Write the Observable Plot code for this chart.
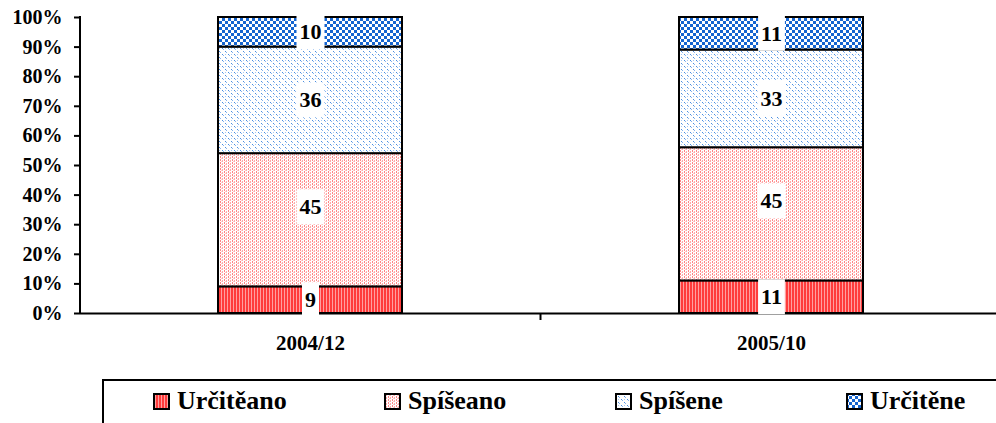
<!DOCTYPE html>
<html><head><meta charset="utf-8">
<script src="https://cdn.jsdelivr.net/npm/d3@7"></script>
<script src="https://cdn.jsdelivr.net/npm/@observablehq/plot@0.6"></script>
<style>
body{margin:0;background:#fff;font-family:"Liberation Serif";}
#legend{position:relative;margin-left:102px;margin-top:14px;height:60px;border-top:2px solid #000;border-left:2px solid #000;box-sizing:border-box;}
.sw{position:absolute;top:12px;width:17px;height:17px;}
.lt{position:absolute;top:7px;font-family:"Liberation Serif";font-weight:bold;font-size:26px;line-height:26px;white-space:nowrap;}
svg text{font-family:"Liberation Serif";}
</style></head><body>
<svg width="0" height="0" style="position:absolute">
<defs>
<pattern id="p0" width="3" height="4" patternUnits="userSpaceOnUse"><rect width="3" height="4" fill="#ffa0a0"/><rect width="2" height="4" fill="#ff3c3c"/></pattern>
<pattern id="p1" width="4" height="3" patternUnits="userSpaceOnUse"><rect width="4" height="3" fill="#ffffff"/><rect x="0" y="0" width="1" height="2" fill="#ff8484"/><rect x="2" y="1" width="1" height="2" fill="#ffaaaa"/><rect x="1" y="2" width="1" height="1" fill="#ffcccc"/></pattern>
<pattern id="p2" width="6" height="6" patternUnits="userSpaceOnUse"><rect width="6" height="6" fill="#ffffff"/><rect x="0" y="0" width="1" height="1" fill="#4a8ee0"/><rect x="1" y="1" width="1" height="1" fill="#8ab6ee"/><rect x="3" y="3" width="1" height="1" fill="#4a8ee0"/><rect x="4" y="4" width="1" height="1" fill="#8ab6ee"/><rect x="3" y="0" width="1" height="1" fill="#a9c9f2"/></pattern>
<pattern id="p3" width="6" height="6" patternUnits="userSpaceOnUse"><rect width="6" height="6" fill="#ffffff"/><rect x="0" y="0" width="3" height="3" fill="#1464d0"/><rect x="3" y="3" width="3" height="3" fill="#1464d0"/></pattern>
</defs></svg>
<div id="chart"></div>
<div id="legend"></div>
<script>
const categories = ["2004/12", "2005/10"];
const series = ["Určitěano", "Spíšeano", "Spíšene", "Určitěne"];
const values2004 = [9, 45, 36, 10];
const values2005 = [11, 45, 33, 11];
const yTicks = [0, 10, 20, 30, 40, 50, 60, 70, 80, 90, 100];
const patterns = ["url(#p0)", "url(#p1)", "url(#p2)", "url(#p3)"];

const data = [];
[values2004, values2005].forEach((vals, i) => {
  vals.forEach((v, j) => data.push({cat: categories[i], series: series[j], value: v}));
});

const font = "Liberation Serif";
const stackOpts = {x: "cat", y: "value", z: "series", text: "value"};
const lblStyle = {className: "lbl", fontSize: 22, fontWeight: "bold", fontFamily: font, fill: "#000"};

const chart = Plot.plot({
  width: 996,
  height: 365,
  marginLeft: 80,
  marginRight: 0,
  marginTop: 17,
  marginBottom: 52,
  style: {fontFamily: font, background: "#fff", overflow: "visible", color: "#000"},
  x: {domain: categories, range: [80, 1002], paddingInner: 0.6, paddingOuter: 0.3, label: null},
  y: {domain: [0, 100], label: null},
  color: {domain: series, range: patterns},
  marks: [
    Plot.barY(data, {x: "cat", y: "value", z: "series", fill: "series", stroke: "#000", strokeWidth: 2, inset: 0}),
    Plot.ruleY([0], {stroke: "#000", strokeWidth: 2}),
    Plot.axisY({ticks: yTicks, tickFormat: d => d + "%", tickSize: 6, tickPadding: 12, strokeWidth: 2, fontSize: 20, fontWeight: "bold", fontFamily: font, label: null}),
    Plot.axisX({tickSize: 0, tickPadding: 22, fontSize: 21, fontWeight: "bold", fontFamily: font, label: null}),
    Plot.text(data, Plot.filter(d => d.series !== "Spíšeano", Plot.stackY({...stackOpts, ...lblStyle}))),
    Plot.text(data, Plot.filter(d => d.series === "Spíšeano", Plot.stackY({...stackOpts, ...lblStyle, dy: -13})))
  ]
});
document.getElementById("chart").appendChild(chart);

// white boxes behind the data labels
const svg = d3.select(chart);
svg.selectAll("g.lbl text").each(function() {
  const b = this.getBBox();
  const tr = this.getAttribute("transform");
  const r = document.createElementNS("http://www.w3.org/2000/svg", "rect");
  r.setAttribute("x", b.x - 3); r.setAttribute("y", b.y - 5);
  r.setAttribute("width", b.width + 6); r.setAttribute("height", b.height + 10);
  r.setAttribute("fill", "#fff");
  if (tr) r.setAttribute("transform", tr);
  this.parentNode.insertBefore(r, this);
});

// y axis line and category boundary tick
const xs = chart.scale("x"), ys = chart.scale("y");
const y0 = ys.apply(0), y1 = ys.apply(100);
svg.append("line").attr("x1", 80).attr("x2", 80).attr("y1", y1 - 1).attr("y2", y0 + 1).attr("stroke", "#000").attr("stroke-width", 2);
const bx = xs.apply(categories[0]) + xs.bandwidth + (xs.step - xs.bandwidth) / 2;
svg.append("line").attr("x1", bx).attr("x2", bx).attr("y1", y0).attr("y2", y0 + 7).attr("stroke", "#000").attr("stroke-width", 2);

// legend
const leg = document.getElementById("legend");
series.forEach((s, i) => {
  const left = 49 + i * 231;
  const sw = document.createElementNS("http://www.w3.org/2000/svg", "svg");
  sw.setAttribute("class", "sw");
  sw.setAttribute("width", 17); sw.setAttribute("height", 17);
  sw.style.left = left + "px";
  sw.innerHTML = `<rect x="1" y="1" width="15" height="15" fill="${patterns[i]}" stroke="#000" stroke-width="2"/>`;
  leg.appendChild(sw);
  const t = document.createElement("span");
  t.className = "lt";
  t.style.left = (left + 24) + "px";
  t.style.fontFamily = font;
  t.textContent = s;
  leg.appendChild(t);
});
</script>
</body></html>
